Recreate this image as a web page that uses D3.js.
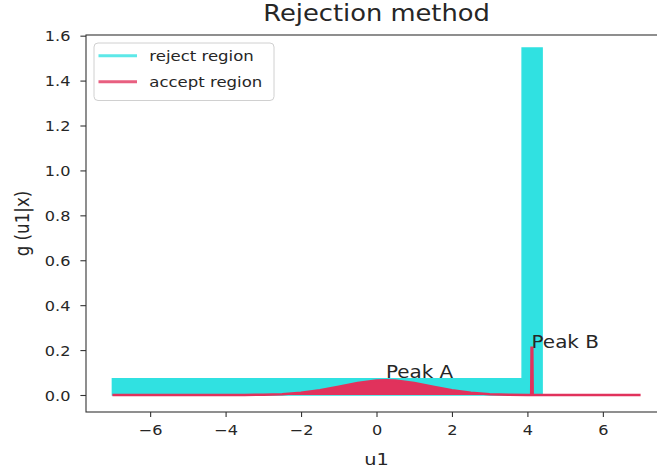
<!DOCTYPE html>
<html>
<head>
<meta charset="utf-8">
<script src="https://cdn.jsdelivr.net/npm/d3@7"></script>
<style>
  body { margin: 0; background: #fff; }
  text { font-family: "DejaVu Sans", sans-serif; fill: #262626; }
</style>
</head>
<body>
<script>
// values
var xTicks = [-6, -4, -2, 0, 2, 4, 6];
var yTicks = [0, 0.2, 0.4, 0.6, 0.8, 1.0, 1.2, 1.4, 1.6];

// accept region: g(u1|x) from 0 up to the curve
var acceptX = [-7, -4, -3.5, -3, -2.5, -2, -1.5, -1, -0.5, 0, 0.25, 0.5, 1, 1.5, 2, 2.5, 3, 3.5, 4, 4.1, 4.11, 4.13, 4.14, 5, 7];
var acceptG = [0, 0, 0.0003, 0.0012, 0.0037, 0.0097, 0.0207, 0.0366, 0.0533, 0.0645, 0.066, 0.0645, 0.0533, 0.0366, 0.0207, 0.0097, 0.0037, 0.0012, 0.0003, 0, 0.21, 0.21, 0, 0, 0];

// reject region: up to the envelope
var rejectX = [-7, 3.86, 3.86, 4.39, 4.39];
var rejectTop = [0.072, 0.072, 1.545, 1.545, 0];

var legendLabels = ["reject region", "accept region"];
var peakLabels = ["Peak A", "Peak B"];
var peakX = [0.25, 4.11];
var peakY = [0.074, 0.208];

var cyan = "#30e1e1";
var red = "#e1325c";

// picture is a bit wider than tall, so text is stretched sideways
var sx = 1.16;

var svgWidth = 657;
var svgHeight = 472;

var chartMargin = { top: 35, right: -10, bottom: 60, left: 86 };
var chartWidth = svgWidth - chartMargin.left - chartMargin.right;
var chartHeight = svgHeight - chartMargin.top - chartMargin.bottom;

var svg = d3.select("body")
  .append("svg")
  .attr("width", svgWidth)
  .attr("height", svgHeight);

var chartGroup = svg.append("g")
  .attr("transform", `translate(${chartMargin.left}, ${chartMargin.top})`);

var xLinearScale = d3.scaleLinear()
  .domain([-7.7, 7.7])
  .range([0, chartWidth]);

var yLinearScale = d3.scaleLinear()
  .domain([-0.0757, 1.603])
  .range([chartHeight, 0]);

// reject region (drawn first, accept region goes over it)
var rejectData = rejectX.map((x, i) => ({ x: x, y: rejectTop[i] }));
chartGroup.append("path")
  .datum(rejectData)
  .attr("fill", cyan)
  .attr("stroke", cyan)
  .attr("stroke-width", 1.5)
  .attr("d", d3.area()
    .x(d => xLinearScale(d.x))
    .y0(yLinearScale(0))
    .y1(d => yLinearScale(d.y)));

var acceptData = acceptX.map((x, i) => ({ x: x, y: acceptG[i] }));
chartGroup.append("path")
  .datum(acceptData)
  .attr("fill", red)
  .attr("d", d3.area()
    .x(d => xLinearScale(d.x))
    .y0(yLinearScale(0))
    .y1(d => yLinearScale(d.y)));

chartGroup.append("path")
  .datum(acceptData)
  .attr("fill", "none")
  .attr("stroke", red)
  .attr("stroke-width", 2.5)
  .attr("d", d3.line()
    .x(d => xLinearScale(d.x))
    .y(d => yLinearScale(d.y)));

// axes
var bottomAxis = d3.axisBottom(xLinearScale).tickValues(xTicks).tickSizeOuter(0).tickSize(5);
var leftAxis = d3.axisLeft(yLinearScale).tickValues(yTicks).tickFormat(d3.format(".1f")).tickSizeOuter(0).tickSize(5.6);

var xAxisG = chartGroup.append("g")
  .attr("transform", `translate(0, ${chartHeight})`)
  .call(bottomAxis);

var yAxisG = chartGroup.append("g")
  .call(leftAxis);

[xAxisG, yAxisG].forEach(g => {
  g.select(".domain").remove();
  g.selectAll("line").attr("stroke", "#333").attr("stroke-width", 1.1);
  g.selectAll("text").attr("font-size", "13.9px").attr("font-family", "DejaVu Sans").attr("fill", "#262626");
});

xAxisG.selectAll("text")
  .attr("y", null).attr("dy", null)
  .attr("transform", `translate(0, 23.3) scale(${sx}, 1)`);

yAxisG.selectAll("text")
  .attr("x", null).attr("dy", "0.36em")
  .attr("transform", `translate(-15.5, 0) scale(${sx}, 1)`);

// spines
chartGroup.append("rect")
  .attr("width", chartWidth)
  .attr("height", chartHeight)
  .attr("fill", "none")
  .attr("stroke", "#333")
  .attr("stroke-width", 1.1);

// peak annotations
chartGroup.selectAll(".peakText")
  .data(peakLabels)
  .enter()
  .append("text")
  .attr("class", "peakText")
  .attr("transform", (d, i) => `translate(${xLinearScale(peakX[i])}, ${yLinearScale(peakY[i])}) scale(${sx}, 1)`)
  .attr("font-size", "17.2px")
  .attr("fill", "#111")
  .text(d => d);

// legend
var legend = chartGroup.append("g")
  .attr("transform", "translate(8, 8)");

legend.append("rect")
  .attr("x", 0)
  .attr("y", 0)
  .attr("width", 180)
  .attr("height", 57.5)
  .attr("rx", 4)
  .attr("fill", "#fff")
  .attr("fill-opacity", 0.8)
  .attr("stroke", "#d0d0d0")
  .attr("stroke-width", 1);

[cyan, red].forEach((c, i) => {
  legend.append("line")
    .attr("x1", 4.5)
    .attr("x2", 43)
    .attr("y1", 12.7 + i * 26)
    .attr("y2", 12.7 + i * 26)
    .attr("stroke", c)
    .attr("stroke-opacity", 0.78)
    .attr("stroke-width", 3);
  legend.append("text")
    .attr("transform", `translate(55.3, ${12.7 + i * 26}) scale(1.19, 1)`)
    .attr("dy", "0.36em")
    .attr("font-size", "13.9px")
    .text(legendLabels[i]);
});

// title and axis labels
svg.append("text")
  .attr("transform", `translate(${chartMargin.left + xLinearScale(0)}, 21) scale(${sx}, 1)`)
  .attr("text-anchor", "middle")
  .attr("font-size", "22.2px")
  .text("Rejection method");

svg.append("text")
  .attr("transform", `translate(${chartMargin.left + xLinearScale(0)}, 465) scale(${sx}, 1)`)
  .attr("text-anchor", "middle")
  .attr("font-size", "16.7px")
  .text("u1");

svg.append("text")
  .attr("transform", `translate(29, ${chartMargin.top + chartHeight / 2}) scale(${sx}, 1) rotate(-90)`)
  .attr("text-anchor", "middle")
  .attr("font-size", "16.7px")
  .text("g (u1|x)");
</script>
</body>
</html>
